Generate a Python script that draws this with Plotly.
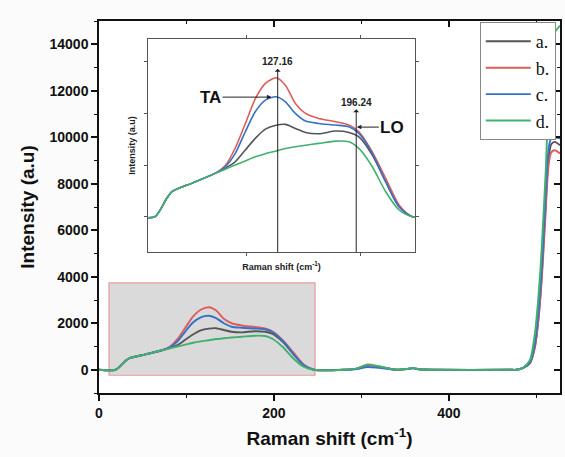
import plotly.graph_objects as go

# Raman shift (cm^-1) sample positions shared by all series
raman_shift = [0, 19, 29.5, 34, 53, 72, 81, 89.8, 98.6, 107.4, 116.3, 125.7, 133.9, 142.7,
               151.6, 163.3, 178, 189.8, 198.6, 210.4, 222.2, 234, 245.7, 280, 295, 307, 320,
               340, 352, 359, 366, 380, 470, 477, 485, 492.6, 498.3, 502, 504.8, 507, 509,
               510.9, 512.3, 514.3, 517, 521, 527]

series_names = ["a.", "b.", "c.", "d."]

intensity_a = [0, 0, 356, 484, 660, 839, 936, 1064, 1290, 1516, 1696, 1770, 1787, 1710,
               1632, 1606, 1658, 1632, 1547, 1193, 677, 193, 0, 0, 50, 200, 130,
               0, 30, 70, 20, 0, 0, 0, 80, 280, 1000, 2100, 3300, 4600, 6000,
               7300, 8300, 9200, 9700, 9800, 9650]
intensity_b = [0, 0, 356, 484, 660, 839, 990, 1330, 1800, 2280, 2580, 2690, 2547, 2193,
               2000, 1903, 1838, 1774, 1644, 1257, 743, 226, 0, 0, 50, 200, 130,
               0, 30, 70, 20, 0, 0, 0, 80, 280, 950, 2000, 3200, 4400, 5700,
               7000, 8000, 8900, 9350, 9440, 9300]
intensity_c = [0, 0, 356, 484, 660, 839, 967, 1226, 1644, 2031, 2257, 2321, 2224, 2000,
               1851, 1806, 1774, 1741, 1613, 1226, 677, 193, 0, 0, 30, 120, 80,
               0, 30, 60, 20, 0, 0, 0, 80, 300, 1100, 2300, 3600, 4900, 6300,
               7700, 8700, 9600, 9950, 9990, 9950]
intensity_d = [0, 0, 356, 484, 660, 839, 920, 1000, 1080, 1160, 1220, 1271, 1320, 1354,
               1385, 1419, 1464, 1451, 1322, 967, 484, 130, 0, 0, 60, 230, 150,
               0, 30, 80, 20, 0, 0, 0, 100, 409, 1557, 2989, 4421, 5858, 7290,
               8722, 10159, 11591, 13500, 14500, 14800]

colors = ["#555555", "#e05c5c", "#3572c6", "#40b070"]
all_series = [intensity_a, intensity_b, intensity_c, intensity_d]

# zoom box (grey rectangle) and inset ranges
zoom_x = [11.4, 247]
zoom_y = [-237, 3733]
inset_xrange = [13, 248]
inset_yrange = [-683, 3440]
peak_ta = 127.16
peak_lo = 196.24

FONT = "Arial, Liberation Sans, sans-serif"

fig = go.Figure()

for name, ys, col in zip(series_names, all_series, colors):
    fig.add_trace(go.Scatter(x=raman_shift, y=ys, name=name, mode="lines",
                             line=dict(color=col, width=1.9, shape="spline", smoothing=0.7),
                             xaxis="x", yaxis="y"))
for name, ys, col in zip(series_names, all_series, colors):
    fig.add_trace(go.Scatter(x=raman_shift, y=ys, name=name, mode="lines", showlegend=False,
                             line=dict(color=col, width=1.6, shape="spline", smoothing=0.7),
                             xaxis="x2", yaxis="y2", hoverinfo="skip"))

# empty trace to activate the mirror axes
fig.add_trace(go.Scatter(x=[], y=[], xaxis="x3", yaxis="y3", showlegend=False))

fig.add_shape(type="rect", xref="x", yref="y", x0=zoom_x[0], x1=zoom_x[1], y0=zoom_y[0],
              y1=zoom_y[1], fillcolor="#dadada", line=dict(color="#e89a9a", width=1.2),
              layer="below")

tickfont = dict(family=FONT, size=14, color="#111111", weight="bold")
fig.update_layout(
    width=565, height=457,
    margin=dict(l=99, r=5, t=21, b=64, autoexpand=False),
    paper_bgcolor="#fbfbfb", plot_bgcolor="white",
    showlegend=True,
    legend=dict(x=0.826, y=0.997, xanchor="left", yanchor="top",
                bgcolor="white", bordercolor="#888888", borderwidth=1,
                font=dict(family="Liberation Serif, Times New Roman, serif", size=18, color="#111"),
                tracegroupgap=0, itemwidth=45),
    xaxis=dict(domain=[0, 1], range=[0, 527], anchor="y", dtick=200, tick0=0,
               showline=True, linecolor="#111", linewidth=1.5, ticks="outside", ticklen=6,
               tickwidth=1.5, tickcolor="#111", showgrid=False, zeroline=False,
               minor=dict(dtick=100, ticks="outside", ticklen=3.5, tickwidth=1.2, tickcolor="#111"),
               tickfont=tickfont,
               title=dict(text="<b>Raman shift (cm<sup>-1</sup>)</b>", standoff=12,
                          font=dict(family=FONT, size=19, color="#111"))),
    yaxis=dict(domain=[0, 1], range=[-1000, 15000], anchor="x", dtick=2000, tick0=0,
               showline=True, linecolor="#111", linewidth=1.5, ticks="outside", ticklen=6,
               tickwidth=1.5, tickcolor="#111", showgrid=False, zeroline=False,
               minor=dict(dtick=1000, ticks="outside", ticklen=3.5, tickwidth=1.2, tickcolor="#111"),
               tickfont=tickfont, tickformat="d",
               title=dict(text="<b>Intensity (a.u)</b>", standoff=10,
                          font=dict(family=FONT, size=19, color="#111"))),
    xaxis3=dict(overlaying="x", side="top", anchor="y3", range=[0, 527], dtick=200, tick0=0,
                showline=True, linecolor="#111", linewidth=1.5, ticks="inside", ticklen=6,
                tickwidth=1.5, tickcolor="#111", showticklabels=False, showgrid=False,
                zeroline=False,
                minor=dict(dtick=100, ticks="inside", ticklen=3.5, tickwidth=1.2, tickcolor="#111")),
    yaxis3=dict(overlaying="y", side="right", anchor="x3", range=[-1000, 15000], dtick=2000,
                tick0=0, showline=True, linecolor="#111", linewidth=1.5, ticks="inside",
                ticklen=6, tickwidth=1.5, tickcolor="#111", showticklabels=False,
                showgrid=False, zeroline=False,
                minor=dict(dtick=1000, ticks="inside", ticklen=3.5, tickwidth=1.2, tickcolor="#111")),
    xaxis2=dict(domain=[0.1063, 0.6855], range=inset_xrange, anchor="y2", dtick=100, tick0=0,
                showline=True, mirror="ticks", linecolor="#555", linewidth=1, ticks="outside",
                ticklen=3, tickcolor="#555", showticklabels=False, showgrid=False, zeroline=False,
                title=dict(text="<b>Raman shift (cm<sup>-1</sup>)</b>", standoff=8,
                           font=dict(family=FONT, size=9, color="#222"))),
    yaxis2=dict(domain=[0.379, 0.9516], range=inset_yrange, anchor="x2", dtick=1000, tick0=0,
                showline=True, mirror="ticks", linecolor="#555", linewidth=1, ticks="outside",
                ticklen=3, tickcolor="#555", showticklabels=False, showgrid=False, zeroline=False,
                title=dict(text="<b>Intensity (a.u)</b>", standoff=6,
                           font=dict(family=FONT, size=9, color="#222"))),
)

arrow_col = "#222222"
ann = []
# vertical peak markers: label on top, arrowhead just below the label, line down to inset bottom
for xv, ylab, lab in [(peak_ta, 3000, "127.16"), (peak_lo, 2215, "196.24")]:
    ann.append(dict(xref="x2", yref="y2", axref="x2", ayref="y2", x=xv, y=inset_yrange[0],
                    ax=xv, ay=ylab, showarrow=True, arrowside="start", arrowhead=2,
                    arrowsize=0.9, arrowwidth=1, arrowcolor=arrow_col, standoff=0,
                    startstandoff=0, text="<b>" + lab + "</b>",
                    font=dict(family=FONT, size=10, color="#222")))
# TA
ann.append(dict(xref="x2", yref="y2", axref="x2", ayref="y2", x=121.6, y=2315, ax=68, ay=2315,
                showarrow=True, arrowhead=2, arrowsize=0.9, arrowwidth=1, arrowcolor=arrow_col,
                text="<b>TA</b>", font=dict(family=FONT, size=17, color="#111")))
# LO
ann.append(dict(xref="x2", yref="y2", axref="x2", ayref="y2", x=196.8, y=1735, ax=228, ay=1735,
                showarrow=True, arrowhead=2, arrowsize=0.9, arrowwidth=1, arrowcolor=arrow_col,
                text="<b>LO</b>", font=dict(family=FONT, size=17, color="#111")))
fig.update_layout(annotations=ann)

fig.write_html("out.html", config={"displayModeBar": False})

# remove the browser's default 8px body margin so the figure fills the window exactly
with open("out.html", "r", encoding="utf-8") as fh:
    html = fh.read()
html = html.replace("<body>", '<body style="margin:0;padding:0;overflow:hidden;">', 1)
with open("out.html", "w", encoding="utf-8") as fh:
    fh.write(html)
